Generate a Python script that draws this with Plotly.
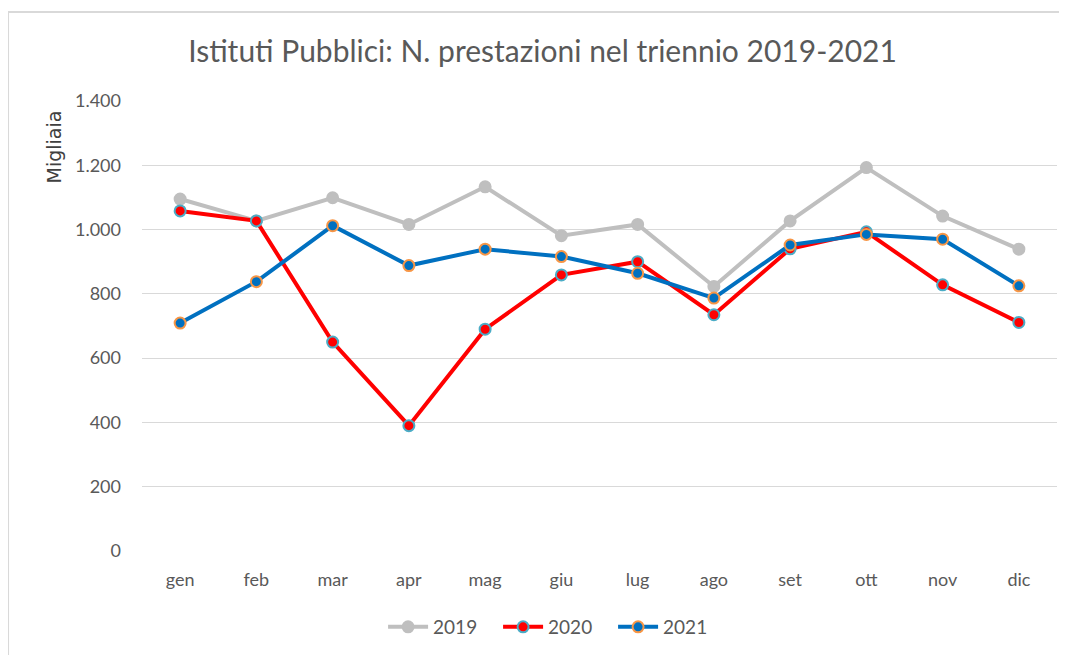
import plotly.graph_objects as go

months = ["gen", "feb", "mar", "apr", "mag", "giu", "lug", "ago", "set", "ott", "nov", "dic"]
y2019 = [1095, 1027, 1099, 1016, 1133, 981, 1016, 823, 1027, 1193, 1042, 939]
y2020 = [1058, 1027, 650, 390, 690, 859, 900, 735, 940, 993, 828, 711]
y2021 = [709, 838, 1012, 888, 939, 916, 864, 787, 952, 985, 970, 825]
y_ticks = [0, 200, 400, 600, 800, 1000, 1200, 1400]
y_tick_labels = ["0", "200", "400", "600", "800", "1.000", "1.200", "1.400"]

FONT = "Lato"
TEXT = "#595959"

series = [
    ("2019", y2019, "#bfbfbf", "#bfbfbf"),
    ("2020", y2020, "#ff0000", "#4bacc6"),
    ("2021", y2021, "#0070c0", "#f79646"),
]

fig = go.Figure()
for name, vals, color, edge in series:
    fig.add_trace(go.Scatter(
        x=months, y=vals, name=name, mode="lines+markers",
        line=dict(color=color, width=4),
        marker=dict(size=11, color=color, line=dict(color=edge, width=2)),
    ))

# the page adds an 8px body margin, so margins are offset to compensate
fig.update_layout(
    width=1067, height=655,
    margin=dict(l=134, r=18, t=93, b=112, autoexpand=False),
    paper_bgcolor="white", plot_bgcolor="white",
    font=dict(family=FONT, color=TEXT, size=18),
    title=dict(text="Istituti Pubblici: N. prestazioni nel triennio 2019-2021",
               xref="container", x=0.501, xanchor="center",
               yref="container", y=0.933, yanchor="middle",
               font=dict(size=30, color=TEXT, family=FONT)),
    legend=dict(orientation="h", xref="paper", x=0.452, xanchor="center",
                yref="container", y=0.055, yanchor="middle",
                font=dict(size=19, color=TEXT), traceorder="normal",
                itemwidth=40, entrywidth=60),
    showlegend=True,
)

fig.update_xaxes(range=[-0.5, 11.5], showgrid=False, showline=False, zeroline=False,
                 ticks="", ticklabelstandoff=16, tickfont=dict(size=18, color=TEXT),
                 fixedrange=True, automargin=False)
fig.update_yaxes(range=[0, 1400], tickvals=y_ticks, ticktext=y_tick_labels,
                 showgrid=True, gridcolor="#d9d9d9", gridwidth=1.3,
                 zeroline=False, showline=False, ticks="", ticklabelstandoff=20,
                 tickfont=dict(size=18, color=TEXT), fixedrange=True, automargin=False)

# axis title sits near the top of the value axis
fig.add_annotation(text="Migliaia", textangle=-90, showarrow=False,
                   xref="paper", yref="paper", x=-0.0962, y=0.899,
                   xanchor="center", yanchor="middle",
                   font=dict(size=19, color="#404040", family="DejaVu Sans"))

# outer chart frame
fig.add_shape(type="rect", xref="paper", yref="paper",
              x0=-0.1464, x1=1.3, y0=-0.5, y1=1.198,
              line=dict(color="#d9d9d9", width=2), layer="below")

fig.write_html("out.html")
